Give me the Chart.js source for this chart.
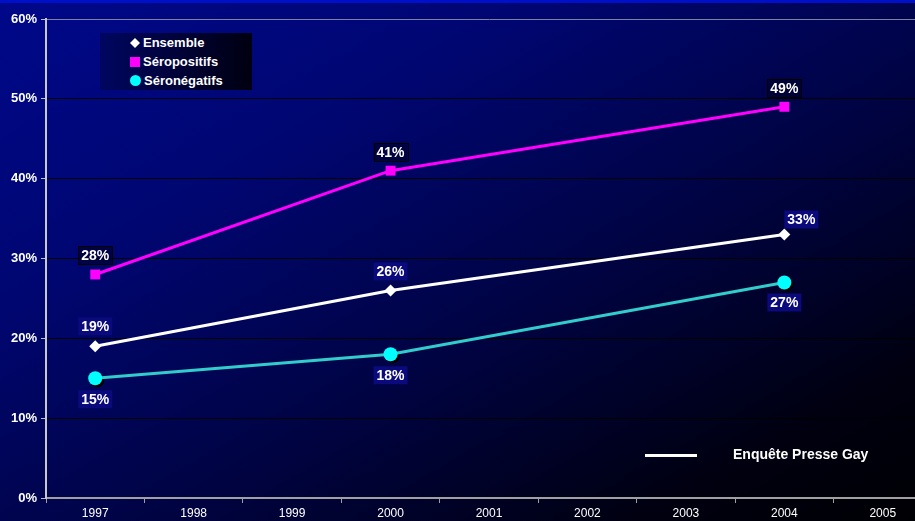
<html>
<head>
<meta charset="utf-8">
<title>Enquête Presse Gay</title>
<script src="https://cdn.jsdelivr.net/npm/chart.js"></script>
<style>
  body { margin: 0; width: 915px; height: 521px; overflow: hidden; position: relative;
         background: linear-gradient(to bottom right, #00088a 0%, #000670 30%, #00033f 60%, #000010 85%, #000004 100%);
         font-family: "Liberation Sans", Arial, sans-serif; }
  .topband { position: absolute; left: 0; top: 0; width: 915px; height: 3px; background: #0010c8; }
  #chart { position: absolute; left: 0; top: 0; }
  .legendBox { position: absolute; left: 100px; top: 33px; width: 152px; height: 57px;
               background: linear-gradient(to right, #000660, #000010); }
  .legendRow { position: absolute; left: 30px; height: 16px; color: #fff; font-weight: bold; font-size: 13px; line-height: 16px; }
  .mark { display: inline-block; vertical-align: middle; margin-right: 3px; position: relative; top: -1px; }
  .surveyLegend { position: absolute; left: 645px; top: 445px; width: 260px; height: 20px; }
  .surveyLine { position: absolute; left: 0; top: 9px; width: 52px; height: 3px; background: #fff; }
  .surveyText { position: absolute; left: 88px; top: 1px; color: #fff; font-weight: bold; font-size: 14px; }
</style>
</head>
<body>
<div class="topband"></div>
<canvas id="chart" width="939" height="521"></canvas>
<div class="legendBox" id="legend"></div>
<div class="surveyLegend"><div class="surveyLine"></div><div class="surveyText">Enquête Presse Gay</div></div>

<script>
var years = ["1997", "1998", "1999", "2000", "2001", "2002", "2003", "2004", "2005"];
var yTicks = [0, 10, 20, 30, 40, 50, 60];
var seriesNames = ["Ensemble", "Séropositifs", "Séronégatifs"];
var ensemble = [19, null, null, 26, null, null, null, 33, null];
var seropositifs = [28, null, null, 41, null, null, null, 49, null];
var seronegatifs = [15, null, null, 18, null, null, null, 27, null];

// where each series puts its value labels (dx, dy from the point) and how the box looks
var labelStyle = [
  { dx: [0, 0, 0, 0, 0, 0, 0, 17, 0], dy: [-20, 0, 0, -19, 0, 0, 0, -15, 0], fill: "#0a0a7c", stroke: null },
  { dx: [0, 0, 0, 0, 0, 0, 0, 0, 0], dy: [-19, 0, 0, -19, 0, 0, 0, -19, 0], fill: "rgba(0,0,40,0.6)", stroke: "#000000" },
  { dx: [0, 0, 0, 0, 0, 0, 0, 0, 0], dy: [21, 0, 0, 21, 0, 0, 0, 20, 0], fill: "#0a0a7c", stroke: null }
];

var valueLabels = {
  id: "valueLabels",
  beforeDatasetDraw: function (chart, args) {
    // black drop shadow under the cyan dots
    if (args.index != 2) return;
    var ctx = chart.ctx;
    ctx.save();
    ctx.fillStyle = "#000000";
    args.meta.data.forEach(function (pt, i) {
      if (seronegatifs[i] == null) return;
      ctx.beginPath();
      ctx.arc(pt.x + 2, pt.y + 2, 7, 0, Math.PI * 2);
      ctx.fill();
    });
    ctx.restore();
  },
  afterDatasetsDraw: function (chart) {
    var ctx = chart.ctx;
    ctx.save();
    ctx.font = "bold 14px 'Liberation Sans', Arial";
    ctx.textAlign = "center";
    ctx.textBaseline = "middle";
    chart.data.datasets.forEach(function (ds, d) {
      var meta = chart.getDatasetMeta(d);
      var st = labelStyle[d];
      ds.data.forEach(function (v, i) {
        if (v == null) return;
        var pt = meta.data[i];
        var x = pt.x + st.dx[i], y = pt.y + st.dy[i];
        var txt = v + "%";
        var w = ctx.measureText(txt).width + 6, h = 18;
        ctx.fillStyle = st.fill;
        ctx.fillRect(x - w / 2, y - h / 2, w, h);
        if (st.stroke) {
          ctx.strokeStyle = st.stroke;
          ctx.lineWidth = 1;
          ctx.strokeRect(Math.round(x - w / 2) + 0.5, Math.round(y - h / 2) + 0.5, Math.round(w), h);
        }
        ctx.fillStyle = "#ffffff";
        ctx.fillText(txt, x, y + 1);
      });
    });
    ctx.restore();
  }
};

var chart = new Chart(document.getElementById("chart"), {
  type: "line",
  data: {
    labels: years,
    datasets: [
      { label: seriesNames[0], data: ensemble, borderColor: "#ffffff", backgroundColor: "#ffffff",
        borderWidth: 3, pointStyle: "rectRot", pointRadius: 6, pointBorderWidth: 0, spanGaps: true, order: 1 },
      { label: seriesNames[1], data: seropositifs, borderColor: "#ff00ff", backgroundColor: "#ff00ff",
        borderWidth: 3, pointStyle: "rect", pointRadius: 7, pointBorderWidth: 0, spanGaps: true, order: 2 },
      { label: seriesNames[2], data: seronegatifs, borderColor: "#33cccc", backgroundColor: "#00ffff",
        borderWidth: 3, pointStyle: "circle", pointRadius: 7, pointBorderWidth: 0, spanGaps: true, order: 3 }
    ]
  },
  options: {
    responsive: false,
    animation: false,
    layout: { padding: { top: 19, left: 0, right: 0, bottom: 0 } },
    plugins: { legend: { display: false }, tooltip: { enabled: false } },
    scales: {
      x: {
        offset: true,
        grid: { display: true, drawOnChartArea: false, tickLength: 5, color: "#a0a0a0", offset: true },
        border: { color: "#a0a0a0", width: 2 },
        ticks: { color: "#ffffff", font: { family: "'Liberation Sans', Arial", size: 12 }, padding: 3, maxRotation: 0, autoSkip: false },
        afterFit: function (s) { s.height = 23; }
      },
      y: {
        min: 0, max: 60,
        afterBuildTicks: function (s) { s.ticks = yTicks.map(function (v) { return { value: v }; }); },
        grid: {
          color: function (c) { return c.tick && c.tick.value == 60 ? "#8080a0" : "#000000"; },
          tickLength: 5, tickColor: "#c0c0c0"
        },
        border: { color: "#c8c8c8", width: 2 },
        ticks: { color: "#ffffff", font: { family: "'Liberation Sans', Arial", size: 13, weight: "bold" }, padding: 4,
                 callback: function (v) { return v + "%"; } },
        afterFit: function (s) { s.width = 46; }
      }
    }
  },
  plugins: [valueLabels]
});

// legend box built from the datasets
var legend = document.getElementById("legend");
var marks = [
  '<svg class="mark" width="10" height="10"><polygon points="5,0 10,5 5,10 0,5" fill="#fff"/></svg>',
  '<svg class="mark" width="10" height="10"><rect width="10" height="10" fill="#ff00ff"/></svg>',
  '<svg class="mark" width="11" height="11"><circle cx="5.5" cy="5.5" r="5.5" fill="#00ffff"/></svg>'
];
chart.data.datasets.forEach(function (ds, i) {
  var row = document.createElement("div");
  row.className = "legendRow";
  row.style.top = (2 + i * 19) + "px";
  row.innerHTML = marks[i] + ds.label;
  legend.appendChild(row);
});
</script>
</body>
</html>
